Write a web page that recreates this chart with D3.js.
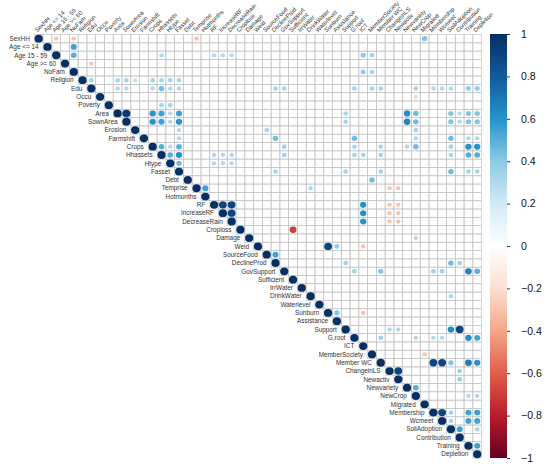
<!DOCTYPE html>
<html>
<head>
<meta charset="utf-8">
<script src="https://cdn.jsdelivr.net/npm/d3@7"></script>
<style>
  body { margin: 0; background: #fff; }
  svg { display: block; font-family: "Liberation Sans", Arial, sans-serif; }
</style>
</head>
<body>
<div id="chart"></div>
<script>
// variable names, in matrix order
const vars = ["SexHH", "Age <= 14", "Age 15 - 59", "Age >= 60", "NoFam", "Religion", "Edu",
  "Occu", "Poverty", "Area", "SownArea", "Erosion", "Farmshift", "Crops", "Hhassets", "Htype",
  "Fasset", "Debt", "Temprise", "Hotmonths", "RF", "IncreaseRF", "DecreaseRain", "Croploss",
  "Damage", "Weid", "SourceFood", "DeclineProd", "GovSupport", "Sufficient", "IrrWater",
  "DrinkWater", "Waterlevel", "Sunburn", "Assistance", "Support", "G.root", "ICT",
  "MemberSociety", "Member WC", "ChangeinLS", "Newactiv", "Newvariety", "NewCrop", "Migrated",
  "Membership", "Wcmeet", "SoilAdoption", "Contribution", "Training", "Depletion"];

// significant correlations shown above the diagonal: [row, col, r]
const corrs = [
  [0, 2, -0.3], [0, 4, -0.3], [0, 18, -0.3], [0, 44, 0.42],
  [1, 4, 0.55],
  [2, 4, 0.5], [2, 14, 0.3], [2, 20, 0.3], [2, 21, 0.3], [2, 22, 0.3], [2, 37, 0.4], [2, 38, 0.33],
  [3, 6, -0.3],
  [4, 37, 0.38], [4, 38, 0.33],
  [5, 6, 0.33], [5, 9, 0.33], [5, 10, 0.33], [5, 11, 0.26], [5, 13, 0.33], [5, 14, 0.33], [5, 15, 0.33], [5, 16, 0.33],
  [6, 9, 0.3], [6, 10, 0.3], [6, 13, 0.3], [6, 14, 0.45], [6, 15, 0.3], [6, 16, 0.3], [6, 27, 0.33], [6, 28, 0.33],
  [6, 36, 0.33], [6, 38, 0.33], [6, 39, 0.33], [6, 43, 0.33], [6, 45, 0.3], [6, 46, 0.3], [6, 47, 0.3], [6, 49, 0.38], [6, 50, 0.38],
  [7, 43, -0.25],
  [8, 14, 0.33], [8, 15, 0.33],
  [9, 10, 0.95], [9, 13, 0.6], [9, 14, 0.55], [9, 15, 0.3], [9, 16, 0.55], [9, 35, 0.33], [9, 42, 0.62],
  [9, 43, 0.45], [9, 47, 0.42], [9, 48, 0.3], [9, 49, 0.42], [9, 50, 0.42],
  [10, 13, 0.6], [10, 14, 0.55], [10, 15, 0.3], [10, 16, 0.6], [10, 35, 0.33], [10, 42, 0.65],
  [10, 43, 0.45], [10, 47, 0.42], [10, 48, 0.3], [10, 49, 0.42], [10, 50, 0.42],
  [11, 16, 0.3], [11, 26, 0.33], [11, 43, 0.33],
  [12, 16, 0.3], [12, 27, 0.45], [12, 36, 0.45], [12, 43, 0.3], [12, 47, 0.45], [12, 49, 0.3], [12, 50, 0.3],
  [13, 14, 0.5], [13, 15, 0.3], [13, 16, 0.5], [13, 28, 0.35], [13, 36, 0.33], [13, 39, 0.33], [13, 42, 0.3],
  [13, 43, 0.45], [13, 47, 0.35], [13, 49, 0.6], [13, 50, 0.6],
  [14, 15, 0.5], [14, 16, 0.6], [14, 20, 0.3], [14, 21, 0.3], [14, 22, 0.3], [14, 28, 0.35], [14, 36, 0.33],
  [14, 37, 0.33], [14, 39, 0.33], [14, 47, 0.33], [14, 49, 0.5], [14, 50, 0.5],
  [15, 16, 0.45], [15, 20, 0.3], [15, 21, 0.3], [15, 22, 0.3],
  [16, 27, 0.33], [16, 35, 0.33], [16, 39, 0.33], [16, 47, 0.45], [16, 49, 0.33], [16, 50, 0.33],
  [17, 38, 0.45],
  [18, 19, 0.55], [18, 31, 0.3], [18, 40, -0.3], [18, 41, -0.3],
  [20, 21, 0.9], [20, 22, 0.9], [20, 37, 0.6], [20, 40, -0.3], [20, 41, -0.3],
  [21, 22, 0.9], [21, 37, 0.6], [21, 40, -0.3], [21, 41, -0.3],
  [22, 37, 0.6], [22, 40, -0.3], [22, 41, -0.3],
  [23, 29, -0.7],
  [24, 43, 0.3],
  [25, 33, 0.9], [25, 34, 0.38], [25, 37, -0.3],
  [26, 27, 0.55],
  [27, 35, 0.35], [27, 47, 0.45], [27, 48, 0.35],
  [28, 36, 0.35], [28, 39, 0.42], [28, 45, 0.35], [28, 46, 0.35], [28, 49, 0.65], [28, 50, 0.5],
  [31, 47, 0.3],
  [33, 34, 0.42], [33, 37, -0.3],
  [35, 40, 0.3], [35, 41, 0.3], [35, 47, 0.62], [35, 48, 0.9],
  [36, 39, 0.35], [36, 43, 0.3], [36, 45, 0.3], [36, 46, 0.3], [36, 49, 0.62], [36, 50, 0.55],
  [38, 44, -0.3],
  [39, 45, 0.9], [39, 46, 0.9], [39, 47, 0.42], [39, 49, 0.68], [39, 50, 0.6],
  [40, 41, 0.9], [40, 48, 0.35],
  [41, 48, 0.35],
  [42, 43, 0.5],
  [43, 49, 0.3], [43, 50, 0.3],
  [45, 46, 0.9], [45, 47, 0.35], [45, 49, 0.55], [45, 50, 0.55],
  [46, 47, 0.33], [46, 49, 0.55], [46, 50, 0.55],
  [47, 48, 0.55], [47, 50, 0.33],
  [49, 50, 0.55]
];

const cbTicks = [-1, -0.8, -0.6, -0.4, -0.2, 0, 0.2, 0.4, 0.6, 0.8, 1];

const width = 550, height = 469;
const n = vars.length;

const svg = d3.select("#chart").append("svg")
    .attr("width", width)
    .attr("height", height);

const x = d3.scaleBand().domain(d3.range(n)).range([34.3, 481.6]);
const y = d3.scaleBand().domain(d3.range(n)).range([34.5, 458.3]);

const color = d3.scaleLinear()
    .domain(cbTicks)
    .range(["#67001f", "#bb1b2c", "#de5f4c", "#f5a68a", "#fcdfd2", "#ffffff",
            "#d2eaf5", "#8ccae7", "#2593cc", "#135a9c", "#062f63"]);

// full matrix from the list, diagonal = 1
const cells = [];
const lookup = new Map(corrs.map(d => [d[0] + "-" + d[1], d[2]]));
for (let i = 0; i < n; i++) {
  for (let j = i; j < n; j++) {
    cells.push({i, j, r: i === j ? 1 : (lookup.get(i + "-" + j) || 0)});
  }
}

// grid
svg.append("g")
  .selectAll("rect")
  .data(cells)
  .join("rect")
    .attr("x", d => x(d.j))
    .attr("y", d => y(d.i))
    .attr("width", x.bandwidth())
    .attr("height", y.bandwidth())
    .attr("fill", "none")
    .attr("stroke", "#c6c6c6")
    .attr("stroke-width", 0.7);

// circles, area ~ |r|
svg.append("g")
  .selectAll("ellipse")
  .data(cells.filter(d => d.r !== 0))
  .join("ellipse")
    .attr("cx", d => x(d.j) + x.bandwidth() / 2)
    .attr("cy", d => y(d.i) + y.bandwidth() / 2)
    .attr("rx", d => 0.47 * x.bandwidth() * Math.sqrt(Math.abs(d.r)))
    .attr("ry", d => 0.47 * y.bandwidth() * Math.sqrt(Math.abs(d.r)))
    .attr("fill", d => color(d.r));

// row labels, left of diagonal
svg.append("g")
  .selectAll("text")
  .data(vars)
  .join("text")
    .attr("x", (d, i) => x(i) - 4.5)
    .attr("y", (d, i) => y(i) + y.bandwidth() / 2)
    .attr("dy", "0.35em")
    .attr("text-anchor", "end")
    .attr("font-size", 6.4)
    .attr("fill", "#333")
    .text(d => d);

// column labels, on top at 45deg
svg.append("g")
  .selectAll("text")
  .data(vars)
  .join("text")
    .attr("transform", (d, i) => `translate(${x(i) + x.bandwidth() / 2 - 1.5},${y.range()[0] - 2}) rotate(-45)`)
    .attr("font-size", 5.9)
    .attr("fill", "#333")
    .text(d => d);

// colour bar
const cb = d3.scaleLinear().domain([-1, 1]).range([458, 34]);
const grad = svg.append("defs").append("linearGradient")
    .attr("id", "cbar")
    .attr("x1", 0).attr("y1", 1).attr("x2", 0).attr("y2", 0);
grad.selectAll("stop")
  .data(cbTicks)
  .join("stop")
    .attr("offset", d => (d + 1) / 2)
    .attr("stop-color", d => color(d));

svg.append("rect")
    .attr("x", 490)
    .attr("y", cb(1))
    .attr("width", 17)
    .attr("height", cb(-1) - cb(1))
    .attr("fill", "url(#cbar)");

const cbAxis = svg.append("g")
    .attr("transform", "translate(507,0)")
    .call(d3.axisRight(cb).tickValues(cbTicks).tickSize(3).tickPadding(11).tickFormat(d3.format("~g")));
cbAxis.select(".domain").remove();
cbAxis.selectAll("text")
    .attr("font-size", 10.5)
    .attr("font-family", "Liberation Sans, Arial, sans-serif")
    .attr("fill", "#111");
cbAxis.selectAll("line").attr("stroke", "#333");
</script>
</body>
</html>
